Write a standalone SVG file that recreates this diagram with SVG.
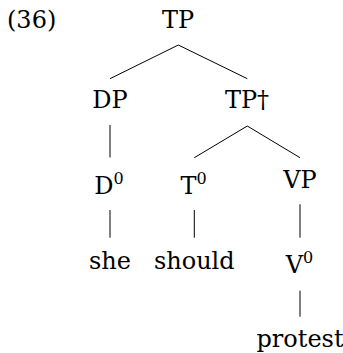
<svg xmlns="http://www.w3.org/2000/svg" width="343" height="353" viewBox="0 0 343 353">
<style>
text{font-family:"DejaVu Serif",serif;font-size:24px;fill:#000;text-anchor:middle}
.sup{font-size:16px}
.num{text-anchor:start}
line{stroke:#000;stroke-width:1}
</style>
<rect width="343" height="353" fill="#fff"/>
<text class="num" x="7" y="28">(36)</text>
<g id="connectors">
<line x1="178.3" y1="45" x2="110" y2="78.7"/>
<line x1="178.3" y1="45" x2="247.3" y2="78.7"/>
<line x1="110" y1="125" x2="110" y2="157.5"/>
<line x1="247.3" y1="126" x2="194.3" y2="157.7"/>
<line x1="247.3" y1="126" x2="300" y2="157.7"/>
<line x1="110" y1="210" x2="110" y2="237.7"/>
<line x1="194.3" y1="210" x2="194.3" y2="237.7"/>
<line x1="300" y1="204.3" x2="300" y2="237.7"/>
<line x1="300" y1="290.7" x2="300" y2="316.7"/>
</g>
<g id="TP"><text x="178" y="28">TP</text></g>
<g id="DP"><text x="110" y="108">DP</text></g>
<g id="TPdagger"><text x="247" y="108">TP†</text></g>
<g id="D0"><text x="109" y="194">D<tspan class="sup" dy="-10">0</tspan></text></g>
<g id="T0"><text x="193.5" y="194">T<tspan class="sup" dy="-10">0</tspan></text></g>
<g id="VP"><text x="300" y="188">VP</text></g>
<g id="she"><text x="110" y="269">she</text></g>
<g id="should"><text x="194.3" y="269">should</text></g>
<g id="V0"><text x="299.5" y="273">V<tspan class="sup" dy="-10">0</tspan></text></g>
<g id="protest"><text x="300" y="347">protest</text></g>
</svg>
